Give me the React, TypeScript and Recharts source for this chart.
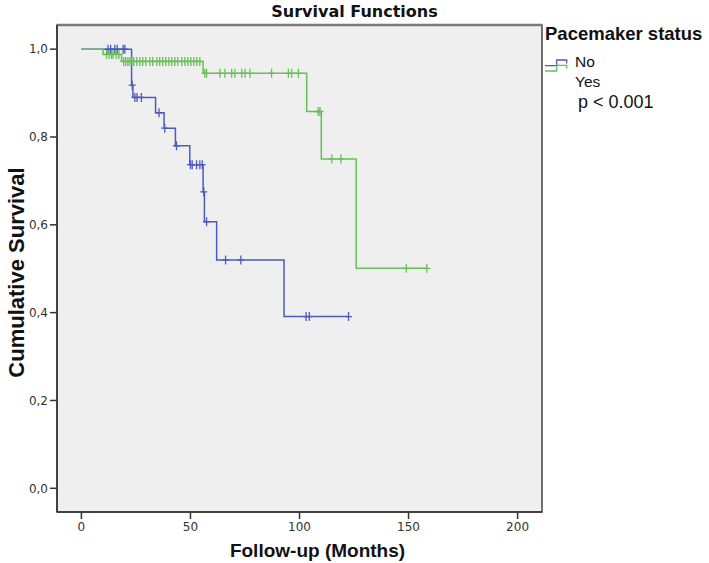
import {
  ComposedChart,
  Line,
  Scatter,
  XAxis,
  YAxis,
  CartesianGrid,
  ReferenceArea,
  ReferenceLine,
  Legend,
  Label,
} from 'recharts';

// Kaplan-Meier steps (months, cumulative survival)
const noTimes = [0, 23.0, 23.6, 34.0, 37.9, 43.1, 49.7, 55.8, 56.4, 62.0, 92.9, 122.5];
const noSurv = [1, 0.918, 0.89, 0.855, 0.82, 0.78, 0.737, 0.675, 0.607, 0.52, 0.391, 0.391];
const noCensored = [
  12.2, 13.4, 15.3, 16.4, 19.1, 19.9, 23.3, 24.5, 25.5, 27.5, 35.6, 38.2, 43.6, 50.0, 50.8,
  52.8, 54.3, 55.4, 56.1, 57.4, 66.1, 73.1, 103.0, 104.5, 122.5,
];

const yesTimes = [0, 9.9, 18.4, 55.8, 103.3, 110.0, 126.0, 158.4];
const yesSurv = [1, 0.988, 0.972, 0.945, 0.858, 0.75, 0.501, 0.501];
const yesCensored = [
  11.5, 12.7, 13.8, 14.5, 16.0, 17.2, 19.4, 20.3, 21.3, 22.2, 23.1, 24.0, 25.4, 26.8, 28.1,
  29.5, 31.4, 32.7, 34.6, 35.9, 37.3, 38.7, 40.1, 41.4, 42.8, 44.2, 46.0, 47.4, 48.8, 50.2,
  51.6, 52.9, 54.3, 56.6, 57.4, 63.5, 65.8, 68.9, 70.4, 73.5, 75.0, 77.3, 87.2, 94.9, 96.4,
  99.5, 108.6, 109.4, 114.8, 119.0, 149.0, 158.4,
];

const xTicks = [0, 50, 100, 150, 200];
const yTicks = [0, 0.2, 0.4, 0.6, 0.8, 1.0];
const xDomain = [-11.2, 211.2];
const yDomain = [-0.054, 1.055];

const BLUE = '#4a5cbf';
const GREEN = '#66c055';

const toSteps = (times: number[], surv: number[]) => times.map((t, i) => ({ t, s: surv[i] }));

// censored cases sit on the current step of the curve
const toMarks = (censored: number[], times: number[], surv: number[]) =>
  censored.map((t) => {
    let i = 0;
    while (i + 1 < times.length && times[i + 1] <= t) i++;
    return { t, s: surv[i] };
  });

const noSteps = toSteps(noTimes, noSurv);
const yesSteps = toSteps(yesTimes, yesSurv);
const noMarks = toMarks(noCensored, noTimes, noSurv);
const yesMarks = toMarks(yesCensored, yesTimes, yesSurv);

const censorShape = (color: string) => (props: any) => {
  const { cx, cy } = props;
  return (
    <path
      d={`M${cx},${cy - 4.5}V${cy + 4.5}M${cx - 3.5},${cy}H${cx + 3.5}`}
      stroke={color}
      strokeWidth={1.3}
      fill="none"
    />
  );
};

const renderLegend = (props: any) => {
  const items = (props.payload || []).filter((p: any) => p.type !== 'none');
  return (
    <svg width={169} height={100} style={{ display: 'block' }}>
      <text x={5} y={20} fontFamily="Liberation Sans, Arial, sans-serif" fontWeight="bold" fontSize={18.5} fill="#111">
        Pacemaker status
      </text>
      {items.map((item: any, i: number) => (
        <g key={item.value}>
          <path
            d={`M5,${45.7 + i * 5.3}H16.7V${40 + i * 5.3}H26.7V${43.5 + i * 5.3}`}
            stroke={item.color}
            strokeWidth={1.3}
            fill="none"
          />
          <text x={35} y={47 + i * 20} fontFamily="Liberation Sans, Arial, sans-serif" fontSize={15.5} fill="#111">
            {item.value}
          </text>
        </g>
      ))}
      <text x={38} y={88} fontFamily="Liberation Sans, Arial, sans-serif" fontSize={18} fill="#111">
        p &lt; 0.001
      </text>
    </svg>
  );
};

export default function App() {
  return (
    <div style={{ position: 'absolute', left: 0, top: 0, width: 709, height: 563, background: '#fff' }}>
      <div
        style={{
          position: 'absolute',
          left: 0,
          top: 1,
          width: 709,
          textAlign: 'center',
          fontFamily: 'DejaVu Sans, sans-serif',
          fontWeight: 'bold',
          fontSize: 16,
          lineHeight: '22px',
          color: '#111',
        }}
      >
        Survival Functions
      </div>
      <ComposedChart width={709} height={563} margin={{ top: 25, right: 167, left: 0, bottom: 0 }}>
        <CartesianGrid horizontal={false} vertical={false} fill="#efefef" />
        <XAxis
          dataKey="t"
          type="number"
          domain={xDomain}
          ticks={xTicks}
          allowDataOverflow
          height={51}
          tickSize={7}
          tickMargin={3}
          axisLine={{ stroke: '#333', strokeWidth: 1.5 }}
          tickLine={{ stroke: '#333', strokeWidth: 1.5 }}
          tick={{ fill: '#333', fontSize: 12, fontFamily: 'DejaVu Sans, sans-serif' }}
        >
          <Label
            content={(p: any) => {
              const { x, width } = p.viewBox;
              return (
                <text
                  x={x + width / 2 + 18}
                  y={557}
                  textAnchor="middle"
                  fontFamily="Liberation Sans, Arial, sans-serif"
                  fontWeight="bold"
                  fontSize={19}
                  fill="#111"
                >
                  Follow-up (Months)
                </text>
              );
            }}
          />
        </XAxis>
        <YAxis
          dataKey="s"
          type="number"
          domain={yDomain}
          ticks={yTicks}
          allowDataOverflow
          width={57}
          tickSize={7}
          tickMargin={2}
          tickFormatter={(v: number) => v.toFixed(1).replace('.', ',')}
          axisLine={{ stroke: '#333', strokeWidth: 1.5 }}
          tickLine={{ stroke: '#333', strokeWidth: 1.5 }}
          tick={{ fill: '#333', fontSize: 12, fontFamily: 'DejaVu Sans, sans-serif' }}
        >
          <Label
            content={(p: any) => {
              const { y, height } = p.viewBox;
              const cy = y + height / 2 + 4;
              return (
                <text
                  x={16}
                  y={cy}
                  transform={`rotate(-90 16 ${cy})`}
                  textAnchor="middle"
                  dominantBaseline="central"
                  fontFamily="Liberation Sans, Arial, sans-serif"
                  fontWeight="bold"
                  fontSize={22}
                  fill="#111"
                >
                  Cumulative Survival
                </text>
              );
            }}
          />
        </YAxis>
        <ReferenceArea
          x1={xDomain[0]}
          x2={xDomain[1]}
          y1={yDomain[0]}
          y2={yDomain[1]}
          fill="none"
          stroke="#444"
          strokeWidth={1.5}
          ifOverflow="visible"
        />
        <ReferenceLine y={yDomain[1]} stroke="#7a7a7a" strokeWidth={2.5} ifOverflow="visible" />
        <Line
          data={noSteps}
          dataKey="s"
          name="No"
          type="stepAfter"
          stroke={BLUE}
          strokeWidth={1.5}
          dot={false}
          activeDot={false}
          isAnimationActive={false}
        />
        <Line
          data={yesSteps}
          dataKey="s"
          name="Yes"
          type="stepAfter"
          stroke={GREEN}
          strokeWidth={1.5}
          dot={false}
          activeDot={false}
          isAnimationActive={false}
        />
        <Scatter
          data={noMarks}
          dataKey="s"
          legendType="none"
          shape={censorShape(BLUE)}
          isAnimationActive={false}
        />
        <Scatter
          data={yesMarks}
          dataKey="s"
          legendType="none"
          shape={censorShape(GREEN)}
          isAnimationActive={false}
        />
        <Legend
          layout="vertical"
          align="center"
          verticalAlign="middle"
          content={renderLegend}
          wrapperStyle={{ position: 'absolute', left: 540, top: 20, width: 169, height: 100 }}
        />
      </ComposedChart>
    </div>
  );
}
